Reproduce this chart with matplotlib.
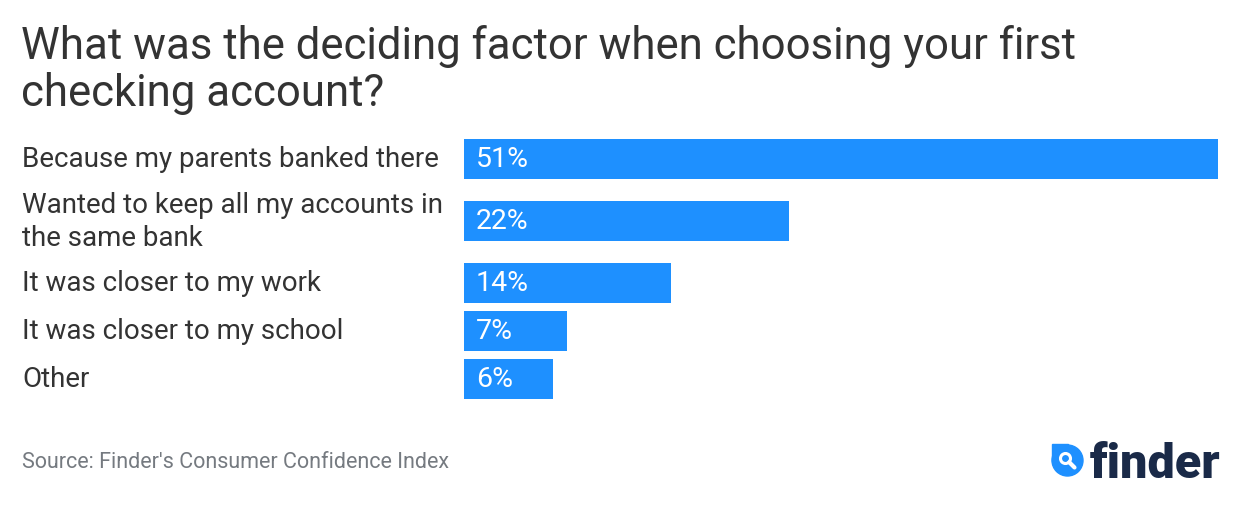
import matplotlib
matplotlib.use("Agg")
from matplotlib import pyplot as plt
from matplotlib import transforms
from matplotlib.patches import Circle, Rectangle

plt.rcParams["font.family"] = ["Roboto", "DejaVu Sans"]

categories = [
    "Because my parents banked there",
    "Wanted to keep all my accounts in\nthe same bank",
    "It was closer to my work",
    "It was closer to my school",
    "Other",
]
values = [51, 22, 14, 7, 6]
value_labels = ["51%", "22%", "14%", "7%", "6%"]

title = "What was the deciding factor when choosing your first\nchecking account?"
source = "Source: Finder's Consumer Confidence Index"

BAR_COLOR = "#1e90ff"
TEXT_COLOR = "#333333"
W, H = 1240, 506

# row layout (pixel units): single-line rows 40 high, two-line rows 68, gap 8
BAR_H = 40
GAP = 8
row_heights = [BAR_H if "\n" not in c else 68 for c in categories]
centers = []
pos = 0
for h in row_heights:
    centers.append(pos + h / 2)
    pos += h + GAP
total = pos - GAP

fig = plt.figure(figsize=(W / 100, H / 100), dpi=100)
ax = fig.add_axes([464 / W, 1 - 400 / H, (1218 - 464) / W, total / H])
ax.barh(centers, values, height=BAR_H, color=BAR_COLOR)
ax.set_xlim(0, max(values))
ax.set_ylim(total, 0)
ax.axis("off")

trans = transforms.blended_transform_factory(fig.transFigure, ax.transData)
for c, y in zip(categories, centers):
    ax.text(22 / W, y, c, transform=trans, ha="left", va="center",
            fontsize=20, color=TEXT_COLOR, linespacing=1.27)

val_trans = transforms.offset_copy(ax.transData, fig=fig, x=12 * 0.72, y=0, units="points")
for v, lab, y in zip(values, value_labels, centers):
    ax.text(0, y, lab, transform=val_trans, ha="left", va="center",
            fontsize=20.5, color="white")

fig.text(21 / W, 1 - 25 / H, title, ha="left", va="top", fontsize=31.5,
         color=TEXT_COLOR, linespacing=1.12)

fig.text(22 / W, 1 - 463 / H, source, ha="left", va="center", fontsize=15.5,
         color="#757a80")

# finder logo
lax = fig.add_axes([1050 / W, 1 - 484 / H, 174 / W, 48 / H])
lax.set_xlim(0, 174)
lax.set_ylim(0, 48)
lax.set_aspect("equal")
lax.axis("off")
lax.add_patch(Circle((17.5, 22.5), 15.5, color=BAR_COLOR))
lax.add_patch(Rectangle((2, 22.5), 15.5, 16.5, color=BAR_COLOR))
lax.add_patch(Circle((15.5, 24.5), 5, fill=False, ec="white", lw=2.2))
lax.plot([19.2, 24.5], [20.8, 15.5], color="white", lw=3, solid_capstyle="round")
lax.text(40, 6, "finder", ha="left", va="baseline", fontsize=35,
         fontweight="heavy", color="#1a2a48")

fig.savefig("out.png", dpi=100)
